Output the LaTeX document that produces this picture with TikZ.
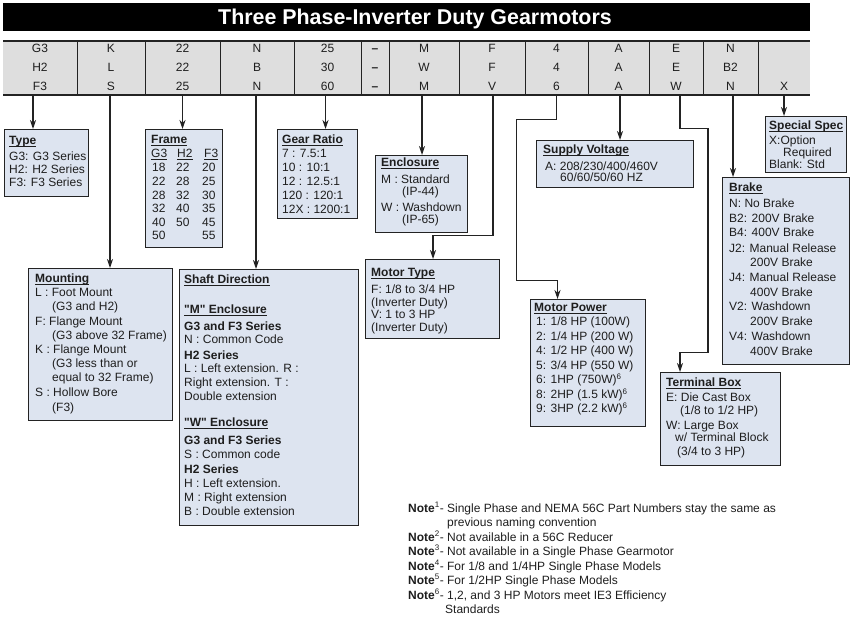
\documentclass[tikz,border=0pt]{standalone}
\usepackage{fontspec}
\setmainfont{Liberation Sans}
\newfontfamily\rawfont{Liberation Sans}[Ligatures=ResetAll]
\usetikzlibrary{arrows.meta}
\definecolor{boxfill}{RGB}{221,228,240}
\definecolor{bandgray}{RGB}{222,222,222}
\definecolor{edge}{RGB}{35,35,35}
\definecolor{ink}{RGB}{30,30,30}
\newcommand\boxlines[2]{\foreach \xx/\yy/\ltext [count=\ii] in {#2} {\node[txt] (#1-\ii) at (\xx,\yy+4) {\ltext};}}
\newsavebox\ulbox
\newcommand\uln[1]{\sbox\ulbox{#1}\usebox\ulbox\llap{\rule[-1.8pt]{\wd\ulbox}{0.9pt}}}
\newcommand\ttl[1]{\uln{\textbf{#1}}}
\newcommand\dq{{\rawfont"}}
\begin{document}
\begin{tikzpicture}[x=1pt,y=-1pt,
  txt/.style={inner sep=0pt,anchor=base west,text=ink,font=\fontsize{12}{14}\selectfont},
  cell/.style={inner sep=0pt,anchor=base,text=ink,font=\fontsize{12}{14}\selectfont},
  colnode/.style={draw=none,inner sep=0pt,minimum height=54pt},
  bx/.style={draw=edge,fill=boxfill,line width=1.1pt,inner sep=0pt,anchor=north west},
  arr/.style={draw=edge,line width=1.1pt,-{Stealth[length=9pt,width=6pt]}},
  sep/.style={draw=edge,line width=0.8pt}]
\useasboundingbox (0,0) rectangle (852,620);
% title
\node[fill=black,inner sep=0pt,minimum width=807pt,minimum height=28pt,anchor=north west] (titlebar) at (3,3) {};
\node[inner sep=0pt,anchor=base,text=white,font=\bfseries\fontsize{21.4}{24}\selectfont] (title) at (415,25) {Three Phase-Inverter Duty Gearmotors};
% code band
\fill[bandgray] (3,41) rectangle (810,95);
\draw[sep,line width=1.1pt] (3,41) -- (810,41);
\draw[sep,line width=1.1pt] (3,95) -- (810,95);
\foreach \l/\r/\a/\b/\c [count=\i] in {3/77/G3/H2/F3, 77/145/K/L/S, 145/220/22/22/25, 220/294/N/B/N, 294/361/25/30/60, 361/389/{\textbf{--}}/{\textbf{--}}/{\textbf{--}}, 389/459/M/W/M, 459/525/F/F/V, 525/588/4/4/6, 588/649/A/A/A, 649/703/E/E/W, 703/758/N/B2/N, 758/810/{}/{}/X}{
  \node[colnode,minimum width=\r-\l] (col\i) at ({(\l+\r)/2},68) {};
  \node[cell] (col\i-a) at ({(\l+\r)/2},53) {\a};
  \node[cell] (col\i-b) at ({(\l+\r)/2},72) {\b};
  \node[cell] (col\i-c) at ({(\l+\r)/2},91) {\c};
}
\foreach \i in {1,...,12}{\draw[sep] (col\i.north east) -- (col\i.south east);}
% boxes
\node[bx,minimum width=84pt,minimum height=67pt] (type) at (4,129) {};
\node[bx,minimum width=77pt,minimum height=118pt] (frame) at (145,129) {};
\node[bx,minimum width=80pt,minimum height=89pt] (gear) at (277,129) {};
\node[bx,minimum width=92pt,minimum height=77pt] (enclosure) at (375,155) {};
\node[bx,minimum width=157pt,minimum height=47pt] (supply) at (536,140) {};
\node[bx,minimum width=81pt,minimum height=56pt] (special) at (765,116) {};
\node[bx,minimum width=127pt,minimum height=187pt] (brake) at (722,177) {};
\node[bx,minimum width=144pt,minimum height=152pt] (mounting) at (28,268) {};
\node[bx,minimum width=179pt,minimum height=256pt] (shaft) at (179,269) {};
\node[bx,minimum width=134pt,minimum height=79pt] (motortype) at (365,259) {};
\node[bx,minimum width=115pt,minimum height=127pt] (motorpower) at (530,299) {};
\node[bx,minimum width=120pt,minimum height=93pt] (terminal) at (660,372) {};
% arrows
\draw[arr] ([xshift=-7pt]col1.south) coordinate (a1) -- (a1 |- type.north);
\draw[arr] ([xshift=-1pt]col2.south) coordinate (a2) -- (a2 |- mounting.north);
\draw[arr] (col3.south) -- (col3.south |- frame.north);
\draw[arr] ([xshift=-1pt]col4.south) coordinate (a4) -- (a4 |- shaft.north);
\draw[arr] ([xshift=-2pt]col5.south) coordinate (a5) -- (a5 |- gear.north);
\draw[arr] ([xshift=-2pt]col7.south) coordinate (a7) -- (a7 |- enclosure.north);
\draw[arr] ([xshift=1pt]col8.south) -- ++(0,140) -- ++(-60,0) coordinate (c8) -- (c8 |- motortype.north);
\draw[arr] (col9.south) -- ++(0,24) -- ++(-40,0) -- ++(0,161) -- ++(41,0) coordinate (c9) -- (c9 |- motorpower.north);
\draw[arr] ([xshift=1.5pt]col10.south) coordinate (a10) -- (a10 |- supply.north);
\draw[arr] ([xshift=4pt]col11.south) -- ++(0,33) -- ++(28,0) -- ++(0,224) -- ++(-28,0) coordinate (c11) -- (c11 |- terminal.north);
\draw[arr] ([xshift=2.5pt]col12.south) coordinate (a12) -- (a12 |- brake.north);
\draw[arr] (col13.south) -- (col13.south |- special.north);
% texts
\boxlines{typet}{9/141/{\ttl{Type}}, 9/157/{G3: G3 Series}, 9/170/{H2: H2 Series}, 9/183/{F3: F3 Series}}
\boxlines{framet}{151/140/{\ttl{Frame}}, 151/154/{\uln{G3}}, 177/154/{\uln{H2}}, 204/154/{\uln{F3}},
  152/168/18, 152/181.6/22, 152/195.2/28, 152/208.8/32, 152/222.4/40, 152/236/50,
  176/168/22, 176/181.6/28, 176/195.2/32, 176/208.8/40, 176/222.4/50,
  202/168/20, 202/181.6/25, 202/195.2/30, 202/208.8/35, 202/222.4/45, 202/236/55}
\boxlines{geart}{282/140/{\ttl{Gear Ratio}}, 282/154/{7 : 7.5:1}, 282/168/{10 : 10:1}, 282/182/{12 : 12.5:1}, 282/196/{120 : 120:1}, 282/210/{12X : 1200:1}}
\boxlines{enct}{381/163/{\ttl{Enclosure}}, 381/180/{M : Standard}, 402/192/{(IP-44)}, 381/208/{W : Washdown}, 402/220/{(IP-65)}}
\boxlines{supt}{543/150/{\ttl{Supply Voltage}}, 545/167/{A: 208/230/400/460V}, 560/178/{60/60/50/60 HZ}}
\boxlines{spect}{769/126/{\ttl{Special Spec}}, 769/141/{X:Option}, 783/153/{Required}, 769/165/{Blank: Std}}
\boxlines{braket}{729/188/{\ttl{Brake}}, 729/204/{N: No Brake}, 729/219/{B2: 200V Brake}, 729/233/{B4: 400V Brake}, 729/249/{J2: Manual Release}, 750/263/{200V Brake}, 729/278/{J4: Manual Release}, 750/293/{400V Brake}, 729/307/{V2: Washdown}, 750/322/{200V Brake}, 729/337/{V4: Washdown}, 750/352/{400V Brake}}
\boxlines{mntt}{35/279/{\ttl{Mounting}}, 35/293/{L : Foot Mount}, 52/307/{(G3 and H2)}, 35/322/{F: Flange Mount}, 52/336/{(G3 above 32 Frame)}, 35/350/{K : Flange Mount}, 52/364/{(G3 less than or}, 52/378/{equal to 32 Frame)}, 35/393/{S : Hollow Bore}, 52/407/{(F3)}}
\boxlines{shaftt}{184/280/{\ttl{Shaft Direction}}, 184/310/{\ttl{\dq M\dq\ Enclosure}}, 184/327/{\textbf{G3 and F3 Series}}, 184/340/{N : Common Code}, 184/356/{\textbf{H2 Series}}, 184/369/{L : Left extension. R :}, 184/383/{Right extension. T :}, 184/397/{Double extension}, 184/423/{\ttl{\dq W\dq\ Enclosure}}, 184/440/{\textbf{G3 and F3 Series}}, 184/454/{S : Common code}, 184/469/{\textbf{H2 Series}}, 184/483/{H : Left extension.}, 184/497/{M : Right extension}, 184/511/{B : Double extension}}
\boxlines{mtt}{371/273/{\ttl{Motor Type}}, 371/290/{F: 1/8 to 3/4 HP}, 371/302.5/{(Inverter Duty)}, 371/315/{V: 1 to 3 HP}, 371/327.5/{(Inverter Duty)}}
\boxlines{mpt}{534/308/{\ttl{Motor Power}}, 536/322/{1: 1/8 HP (100W)}, 536/337/{2: 1/4 HP (200 W)}, 536/351/{4: 1/2 HP (400 W)}, 536/366/{5: 3/4 HP (550 W)}, 536/380/{6: 1HP (750W)\textsuperscript{6}}, 536/395/{8: 2HP (1.5 kW)\textsuperscript{6}}, 536/409/{9: 3HP (2.2 kW)\textsuperscript{6}}}
\boxlines{termt}{666/383/{\ttl{Terminal Box}}, 666/398/{E: Die Cast Box}, 680/411/{(1/8 to 1/2 HP)}, 666/426/{W: Large Box}, 675/438/{w/ Terminal Block}, 677/452/{(3/4 to 3 HP)}}
\boxlines{notet}{408/508/{\textbf{Note}\textsuperscript{1}- Single Phase and NEMA 56C Part Numbers stay the same as}, 447/522/{previous naming convention}, 408/537/{\textbf{Note}\textsuperscript{2}- Not available in a 56C Reducer}, 408/551/{\textbf{Note}\textsuperscript{3}- Not available in a Single Phase Gearmotor}, 408/566/{\textbf{Note}\textsuperscript{4}- For 1/8 and 1/4HP Single Phase Models}, 408/580/{\textbf{Note}\textsuperscript{5}- For 1/2HP Single Phase Models}, 408/595/{\textbf{Note}\textsuperscript{6}- 1,2, and 3 HP Motors meet IE3 Efficiency}, 445/609/{Standards}}
\end{tikzpicture}
\end{document}
